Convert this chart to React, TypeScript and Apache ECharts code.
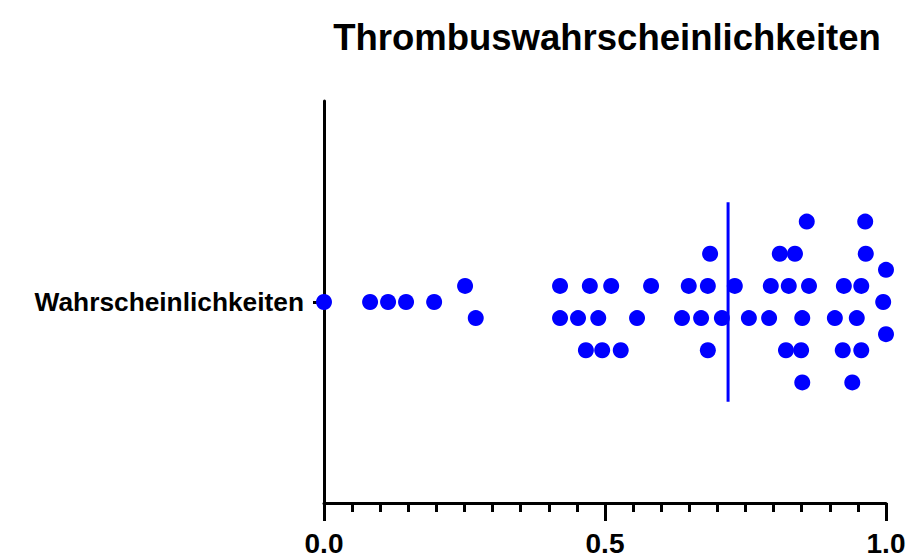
import React, { useEffect, useRef } from "react";
import * as echarts from "echarts";

const title = "Thrombuswahrscheinlichkeiten";
const category = "Wahrscheinlichkeiten";
const xTickLabels = [0, 0.5, 1];

// Values per swarm row (row offset in dot units: 0 = centre line)
const row0 = [0.0, 0.082, 0.114, 0.146, 0.196, 0.995];
const rowUp1 = [0.251, 0.42, 0.473, 0.511, 0.582, 0.649, 0.683, 0.731, 0.795, 0.827, 0.863, 0.925, 0.956];
const rowDown1 = [0.27, 0.42, 0.452, 0.488, 0.557, 0.637, 0.671, 0.708, 0.756, 0.792, 0.851, 0.909, 0.948];
const rowUp2 = [1.0];
const rowDown2 = [1.0];
const rowUp3 = [0.687, 0.811, 0.838, 0.964];
const rowDown3 = [0.466, 0.495, 0.528, 0.683, 0.822, 0.849, 0.923, 0.956];
const rowUp5 = [0.859, 0.963];
const rowDown5 = [0.851, 0.94];
const rowOffsets = [0, 1, -1, 2, -2, 3, -3, 5, -5];
const median = 0.719;
const medianHalfHeight = 6.2;

export default function App() {
  const ref = useRef<HTMLDivElement>(null);
  useEffect(() => {
    document.body.style.margin = "0";
    if (!ref.current) return;
    const chart = echarts.init(ref.current, null, { renderer: "svg" });
    const rows = [row0, rowUp1, rowDown1, rowUp2, rowDown2, rowUp3, rowDown3, rowUp5, rowDown5];
    const points: number[][] = [];
    rows.forEach((r, i) => r.forEach((v) => points.push([v, rowOffsets[i]])));
    const font = "'Liberation Sans', Arial, sans-serif";
    chart.setOption({
      animation: false,
      backgroundColor: "#ffffff",
      title: {
        text: title,
        left: 602,
        textAlign: "center",
        top: 12,
        textStyle: { fontFamily: font, fontSize: 36.5, fontWeight: "bold", color: "#000", lineHeight: 40 },
      },
      grid: { left: 324, right: 22, top: 101, bottom: 55, outerBoundsMode: "none" },
      xAxis: {
        type: "value",
        min: 0,
        max: 1,
        interval: 0.5,
        axisLine: { show: true, onZero: false, lineStyle: { color: "#000", width: 3 } },
        axisTick: { show: true, length: 18, lineStyle: { color: "#000", width: 3 } },
        minorTick: { show: true, splitNumber: 10, length: 9, lineStyle: { color: "#000", width: 3 } },
        splitLine: { show: false },
        axisLabel: {
          customValues: xTickLabels,
          formatter: (v: number) => v.toFixed(1),
          fontFamily: font,
          fontSize: 28,
          lineHeight: 22,
          fontWeight: "bold",
          color: "#000",
          margin: 29,
        },
      },
      yAxis: {
        type: "value",
        min: -12.5,
        max: 12.5,
        axisLine: { show: true, onZero: false, lineStyle: { color: "#000", width: 3 } },
        axisTick: { show: true, customValues: [0], length: 11, lineStyle: { color: "#000", width: 3 } },
        splitLine: { show: false },
        axisLabel: {
          customValues: [0],
          formatter: () => category,
          fontFamily: font,
          fontSize: 26.3,
          fontWeight: "bold",
          color: "#000",
          margin: 20,
        },
      },
      series: [
        {
          type: "scatter",
          data: points,
          symbol: "circle",
          symbolSize: 16,
          itemStyle: { color: "#0000ff", opacity: 1 },
          z: 3,
        },
        {
          type: "line",
          data: [
            [median, -medianHalfHeight],
            [median, medianHalfHeight],
          ],
          symbol: "none",
          lineStyle: { color: "#0000ff", width: 3 },
          z: 4,
        },
      ],
    });
    return () => chart.dispose();
  }, []);
  return <div ref={ref} style={{ width: 908, height: 558 }} />;
}
